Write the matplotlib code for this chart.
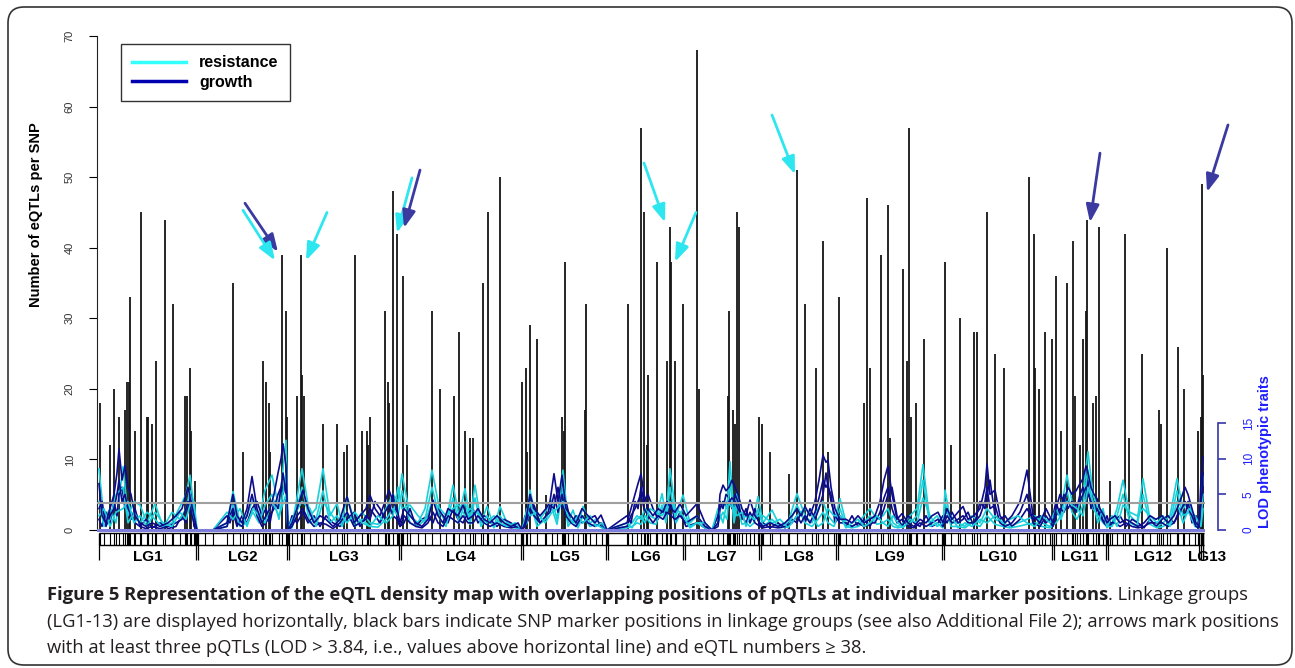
import numpy as np
import matplotlib.pyplot as plt
from matplotlib.lines import Line2D
from matplotlib.patches import FancyBboxPatch

plt.rcParams['font.family'] = ['Liberation Sans', 'DejaVu Sans']

# -----------------------------
# Linkage groups (cumulative map position)
# -----------------------------
lg_names = ["LG1", "LG2", "LG3", "LG4", "LG5", "LG6", "LG7",
            "LG8", "LG9", "LG10", "LG11", "LG12", "LG13"]
lg_start = [99, 197, 288, 400, 522, 607, 684, 760, 837, 943, 1053, 1107, 1200]
lg_end = 1205

# -----------------------------
# eQTL counts per SNP (black bars)
# -----------------------------
snp_pos = [100, 110, 114, 119, 125, 127, 129, 130, 135, 141, 147, 148, 152, 156, 165, 173, 185, 187, 190, 191, 195,
           233, 243, 263, 266, 269, 270, 282, 286, 287,
           297, 301, 302, 304, 323, 337, 344, 347, 355, 362, 367, 368, 370, 385, 388, 389, 393, 397,
           403, 407, 432, 440, 454, 459, 465, 470, 473, 483, 488, 500,
           522, 526, 527, 530, 537, 546, 562, 564, 565, 585, 586,
           628, 641, 644, 647, 648, 657, 667, 670, 671, 675, 683,
           697, 699, 728, 729, 733, 735, 737, 739,
           759, 762, 770, 789, 797, 805, 816, 823, 828, 839,
           864, 867, 870, 881, 888, 890, 903, 907, 909, 911, 916, 924,
           945, 951, 960, 974, 977, 987, 995, 1004, 1029, 1034, 1035, 1039, 1045, 1052,
           1056, 1061, 1067, 1073, 1075, 1080, 1083, 1086, 1087, 1093, 1096, 1099,
           1110, 1125, 1129, 1142, 1159, 1161, 1167, 1178, 1184, 1198,
           1201, 1202, 1203]
eqtl_count = [18, 12, 20, 16, 17, 21, 21, 33, 14, 45, 16, 16, 15, 24, 44, 32, 19, 19, 23, 14, 7,
              35, 11, 24, 21, 18, 11, 39, 31, 16,
              19, 39, 22, 19, 15, 15, 11, 12, 39, 14, 14, 12, 16, 31, 21, 18, 48, 42,
              36, 12, 31, 20, 19, 28, 14, 13, 13, 35, 45, 50,
              21, 23, 11, 29, 27, 5, 16, 14, 38, 17, 32,
              32, 57, 45, 12, 22, 38, 24, 43, 38, 24, 32,
              68, 20, 19, 31, 17, 15, 45, 43,
              16, 15, 11, 8, 51, 32, 23, 41, 11, 33,
              18, 47, 23, 39, 46, 13, 37, 24, 57, 16, 18, 27,
              38, 12, 30, 28, 28, 45, 25, 23, 50, 42, 23, 20, 28, 27,
              36, 14, 35, 41, 19, 12, 27, 31, 44, 18, 19, 43,
              7, 42, 13, 25, 17, 15, 40, 26, 20, 14,
              16, 49, 22]

# -----------------------------
# LOD profiles, resistance traits
# -----------------------------
res_x = [99, 104, 110, 116, 123, 128, 134, 140, 147, 155, 163, 172, 180, 186, 190, 194, 197,
         205,
         213, 227, 233, 240, 247, 253, 259, 265, 272, 279, 286, 288,
         292, 302, 310, 316, 323, 330, 337, 342, 347, 355, 362, 370, 378, 386, 393, 398,
         402, 410, 418, 425, 432, 440, 446, 453, 459, 465, 470, 475, 481, 487, 494, 500, 507, 515, 522,
         527, 530, 537, 545, 552, 557, 563, 568, 573, 578, 583, 590, 596, 602, 607,
         627, 632, 637, 641, 645, 650, 656, 662, 666, 670, 676, 683,
         690, 697, 705, 712, 718, 723, 727, 730, 734, 737, 742, 746, 750, 754, 758,
         763, 772, 780, 788, 797, 805, 812, 818, 823, 828, 834, 840,
         846, 852, 858, 864, 870, 877, 883, 888, 893, 898, 903, 910, 917, 923, 930, 937, 943,
         945, 951, 958, 965, 972, 980, 987, 995, 1003, 1010, 1018, 1027, 1035, 1042, 1050,
         1056, 1061, 1067, 1072, 1077, 1083, 1088, 1093, 1098, 1103, 1107,
         1112, 1117, 1123, 1130, 1137, 1143, 1150, 1157, 1163, 1170, 1177, 1183, 1189, 1195, 1199,
         1201, 1203]
res_lod1 = [8.6, 1.5, 3.0, 1.0, 8.9, 2.0, 4.0, 3.5, 1.0, 3.7, 0.5, 1.0, 3.3, 5.0, 7.7, 3.0, 0,
            0,
            0, 1.0, 5.4, 1.0, 2.0, 4.4, 1.5, 5.6, 7.7, 3.0, 12.6, 0,
            0.5, 8.6, 2.0, 3.0, 8.6, 2.0, 3.7, 1.0, 4.7, 1.0, 2.5, 1.0, 0.8, 3.0, 5.0, 4.0,
            7.9, 2.0, 1.0, 3.0, 8.4, 2.5, 1.0, 6.3, 2.0, 5.8, 1.5, 6.3, 1.0, 3.3, 0.5, 3.3, 1.0, 0.5, 0,
            2.0, 5.6, 1.0, 2.5, 4.2, 1.5, 8.4, 1.0, 2.8, 0.5, 3.3, 1.0, 1.5, 0.5, 0,
            0.5, 1.0, 2.0, 1.5, 3.0, 2.0, 1.5, 5.1, 2.0, 8.6, 2.0, 4.9,
            1.0, 2.0, 0.5, 0, 2.0, 4.0, 3.0, 9.6, 2.0, 5.1, 1.5, 2.0, 1.0, 2.0, 4.7,
            1.0, 2.8, 0.5, 1.0, 5.1, 2.0, 1.0, 3.0, 4.0, 2.0, 1.0, 4.4,
            1.0, 0.5, 1.0, 2.0, 3.0, 1.5, 2.0, 3.0, 1.0, 0.5, 1.0, 2.0, 3.0, 9.2, 1.0, 2.0, 0.5,
            5.6, 1.0, 1.0, 0.5, 2.0, 1.0, 3.0, 1.5, 1.0, 0.5, 1.0, 1.5, 2.0, 1.0, 0.5,
            2.0, 3.0, 7.7, 4.0, 2.5, 5.0, 11.0, 5.0, 3.0, 2.0, 1.0,
            1.0, 3.0, 7.0, 2.0, 1.0, 7.2, 1.5, 0.5, 1.0, 2.0, 7.2, 3.0, 4.0, 1.0, 0.5,
            3.0, 7.5]
res_lod2 = [4.0, 0.5, 1.5, 5.0, 6.0, 1.0, 2.5, 1.0, 2.5, 1.5, 0.3, 2.5, 1.5, 3.0, 5.5, 1.5, 0,
            0,
            0, 0.5, 3.5, 0.5, 1.0, 2.5, 1.0, 3.5, 5.0, 1.5, 8.0, 0,
            0.3, 6.0, 1.0, 1.5, 5.5, 1.0, 2.0, 0.5, 2.5, 0.5, 1.5, 0.5, 0.4, 1.5, 3.0, 2.0,
            5.5, 1.0, 0.5, 1.5, 6.0, 1.5, 0.5, 4.5, 1.0, 4.0, 0.8, 4.5, 0.5, 2.0, 0.3, 2.0, 0.5, 0.3, 0,
            1.0, 4.0, 0.5, 1.5, 3.0, 0.8, 6.0, 0.5, 1.5, 0.3, 2.0, 0.5, 0.8, 0.3, 0,
            0.3, 0.5, 1.0, 0.8, 2.0, 1.0, 0.8, 3.5, 1.0, 6.0, 1.0, 3.0,
            0.5, 1.0, 0.3, 0, 1.0, 2.5, 1.5, 7.0, 1.0, 3.5, 0.8, 1.0, 0.5, 1.0, 3.0,
            0.5, 1.5, 0.3, 0.5, 3.5, 1.0, 0.5, 1.5, 2.5, 1.0, 0.5, 3.0,
            0.5, 0.3, 0.5, 1.0, 2.0, 0.8, 1.0, 1.5, 0.5, 0.3, 0.5, 1.0, 2.0, 7.0, 0.5, 1.0, 0.3,
            4.0, 0.5, 0.5, 0.3, 1.0, 0.5, 2.0, 0.8, 0.5, 0.3, 0.5, 0.8, 1.0, 0.5, 0.3,
            1.0, 2.0, 5.5, 2.5, 1.5, 3.5, 8.5, 3.0, 2.0, 1.0, 0.5,
            0.5, 2.0, 5.0, 1.0, 0.5, 5.0, 0.8, 0.3, 0.5, 1.0, 5.5, 2.0, 2.5, 0.5, 0.3,
            1.5, 5.0]
res_lod3 = [2.0, 3.0, 0.5, 2.5, 3.0, 4.0, 1.0, 2.0, 0.5, 2.5, 1.0, 0.5, 2.5, 1.5, 3.5, 4.0, 0,
            0,
            0, 2.5, 1.5, 3.0, 0.5, 3.0, 2.0, 1.0, 4.0, 2.0, 5.0, 0,
            1.5, 4.0, 3.0, 0.5, 4.0, 2.5, 1.0, 2.0, 1.0, 2.5, 1.0, 0.5, 2.0, 1.0, 2.0, 6.0,
            3.0, 3.5, 2.0, 1.0, 4.0, 3.0, 2.0, 3.0, 3.5, 2.0, 3.0, 2.5, 2.0, 1.0, 2.0, 1.0, 0.5, 1.0, 0,
            3.0, 2.0, 2.5, 1.0, 2.5, 3.0, 4.0, 2.0, 1.0, 2.0, 1.0, 2.0, 0.5, 1.0, 0,
            1.0, 0.3, 1.5, 2.0, 1.0, 3.0, 2.5, 2.0, 3.0, 4.0, 3.0, 2.0,
            0.3, 1.0, 1.0, 0, 3.0, 1.0, 4.0, 3.5, 3.0, 2.0, 2.5, 0.5, 2.0, 1.5, 2.0,
            2.0, 1.0, 1.5, 0.3, 2.0, 3.0, 2.0, 0.5, 1.0, 3.0, 2.0, 2.0,
            0.3, 1.0, 1.5, 0.5, 1.0, 2.0, 1.0, 0.5, 2.0, 1.0, 0.3, 1.5, 1.0, 4.5, 2.0, 0.5, 1.0,
            2.5, 2.0, 0.3, 1.0, 0.5, 1.5, 1.0, 2.0, 1.0, 1.5, 2.0, 1.0, 0.5, 2.0, 1.0,
            3.0, 1.5, 4.0, 3.5, 3.0, 2.0, 6.0, 4.0, 1.0, 3.0, 0.3,
            2.0, 0.5, 3.5, 2.5, 2.0, 3.0, 2.0, 1.0, 2.0, 0.5, 4.0, 1.0, 3.0, 2.0, 1.0,
            0.5, 3.0]

# -----------------------------
# LOD profiles, growth traits
# -----------------------------
gro_x = [99, 102, 106, 110, 114, 117, 119, 122, 125, 128, 131, 135, 140, 146, 152, 160, 168, 176, 182, 186, 188, 191, 194, 197,
         205,
         213, 227, 230, 233, 237, 242, 247, 252, 257, 262, 266, 270, 274, 278, 281, 283, 286, 288,
         292, 297, 303, 308, 314, 320, 326, 333, 340, 347, 354, 360, 366, 370, 375, 380, 385, 389, 393, 397, 400,
         404, 410, 416, 422, 428, 433, 438, 443, 448, 453, 458, 463, 468, 473, 478, 484, 490, 497, 504, 511, 518, 522,
         525, 527, 530, 534, 540, 546, 550, 554, 558, 562, 566, 571, 576, 582, 588, 595, 601, 607,
         627, 631, 635, 638, 641, 644, 648, 653, 658, 663, 667, 671, 675, 680,
         686, 697, 705, 712, 718, 720, 723, 726, 729, 732, 735, 738, 742, 746, 750, 755, 760,
         763, 770, 778, 785, 792, 797, 801, 805, 810, 815, 819, 823, 826, 828, 831, 835, 840,
         846, 852, 858, 864, 870, 875, 880, 884, 888, 892, 897, 902, 908, 914, 920, 926, 932, 938, 943,
         947, 952, 958, 963, 968, 974, 980, 985, 987, 990, 995, 1000, 1005, 1012, 1020, 1027, 1033, 1040, 1046, 1053,
         1056, 1060, 1064, 1068, 1072, 1076, 1080, 1083, 1086, 1088, 1091, 1094, 1097, 1100, 1104, 1107,
         1110, 1115, 1120, 1126, 1132, 1138, 1144, 1150, 1156, 1162, 1168, 1174, 1180, 1185, 1188, 1192, 1196, 1199,
         1201, 1203]
gro_lod1 = [6.5, 2, 1, 3, 5, 8, 11.4, 7, 9, 6, 5, 2, 1, 0.5, 1, 0.5, 1, 2, 3, 5, 6, 4, 2, 0,
            0,
            0, 1, 3, 5, 2, 1, 3, 7.5, 3, 1, 2, 3, 5, 8, 10, 12.1, 9, 0,
            1, 3, 5.6, 3, 1, 2, 1.5, 0.5, 1.5, 4.7, 1, 2, 3, 4.9, 3, 2, 4, 5.6, 4, 3, 1,
            3, 2, 1, 0.5, 1.5, 4.2, 2, 1, 3, 2.5, 2, 3.5, 1.5, 2, 3, 1.5, 1, 2, 1, 0.5, 1, 0,
            1, 2.3, 5, 3, 2, 3, 4, 7.9, 4, 7.7, 3, 2, 1, 3, 2, 1, 2.1, 0,
            1, 3, 5, 6.5, 7.9, 5, 3, 2, 3, 2.5, 4, 3, 2.5, 3.7,
            2, 3.7, 1, 0, 1, 5, 6.3, 5.5, 6, 7, 6, 5, 3, 2, 4.2, 2, 1,
            0.5, 1, 0.5, 1, 2, 3, 2, 3.3, 2, 4, 7, 10.5, 9.5, 9.8, 6, 3, 1.5,
            1.5, 1, 2, 1, 1.5, 2, 4, 7, 9, 5, 1.5, 2.3, 1, 0.5, 1.5, 1, 2, 2.5, 1,
            3, 1.5, 2.5, 3.3, 1.5, 2, 3, 6, 9.3, 5, 5.6, 2, 1, 2, 4, 8.4, 2, 1, 3, 1,
            3, 5, 4, 6, 5, 5.5, 6.5, 7.2, 9, 8, 6, 5, 4.4, 3, 2, 1,
            1.5, 2, 1, 1.5, 1, 0.5, 1, 2, 1.5, 2, 1, 2, 4, 6, 5, 3, 1, 0.5,
            7, 10.3]
gro_lod2 = [3, 4, 0.5, 2, 3, 5, 7, 4, 5, 3, 2.5, 1, 0.5, 0.2, 0.5, 0.2, 0.5, 1, 1.5, 3, 4, 2.5, 1, 0,
            0,
            0, 0.5, 2, 3, 1, 0.5, 2, 5, 2, 0.5, 1, 2, 3, 5, 6, 8, 5, 0,
            0.5, 2, 3, 1.5, 0.5, 1, 0.8, 0.2, 1, 2.5, 0.5, 1, 1.5, 3, 2, 1, 2.5, 3.5, 2, 1.5, 0.5,
            2, 1, 0.5, 0.3, 1, 2.5, 1, 0.5, 2, 1.5, 1, 2, 1, 1, 2, 1, 0.5, 1, 0.5, 0.3, 0.5, 0,
            0.5, 1.5, 3, 2, 1, 2, 2.5, 5, 2.5, 5, 2, 1, 0.5, 2, 1, 0.5, 1, 0,
            0.5, 2, 3, 4, 5, 3, 2, 1, 2, 1.5, 2.5, 2, 1.5, 2,
            1, 2, 0.5, 0, 0.5, 3, 4, 3.5, 4, 4.5, 4, 3, 2, 1, 2.5, 1, 0.5,
            0.3, 0.5, 0.3, 0.5, 1, 2, 1, 2, 1, 2.5, 4.5, 7, 6, 6.5, 4, 2, 1,
            1, 0.5, 1, 0.5, 1, 1, 2.5, 4.5, 6, 3, 1, 1.5, 0.5, 0.3, 1, 0.5, 1, 1.5, 0.5,
            2, 1, 1.5, 2, 1, 1, 2, 4, 6, 3, 3.5, 1, 0.5, 1, 2.5, 5, 1, 0.5, 2, 0.5,
            2, 3, 2.5, 4, 3, 3.5, 4, 5, 6, 5, 4, 3, 3, 2, 1, 0.5,
            1, 1, 0.5, 1, 0.5, 0.3, 0.5, 1, 1, 1, 0.5, 1, 2.5, 4, 3, 2, 0.5, 0.3,
            4, 6]
gro_lod3 = [1.5, 0.5, 2.5, 1, 4, 2, 5, 6, 3, 4, 1.5, 3, 0.5, 1.5, 0.3, 1, 0.2, 0.5, 2, 1, 3, 5, 0.5, 0,
            0,
            0, 2, 1, 2.5, 0.5, 2, 1, 3, 4, 2, 3, 1, 4, 3, 6, 5, 7, 0,
            2, 1, 2.5, 1, 2, 0.5, 2, 1, 0.5, 1.5, 2.5, 0.5, 2, 1.5, 4, 3, 1.5, 2, 5, 2, 0.5,
            1, 3, 0.5, 1.5, 2, 1, 3, 2, 1, 3, 1.5, 1, 2.5, 3, 1, 2, 1.5, 0.5, 1.5, 1, 0.3, 0,
            2, 1, 2, 3.5, 1, 1.5, 3.5, 3, 6, 3, 4, 1, 2, 1, 1.5, 2, 0.5, 0,
            2, 1, 4, 3, 6, 4, 5, 3, 1.5, 3, 2, 4, 1, 2.5,
            0.5, 1, 0.3, 0, 2, 4, 3, 5, 4.5, 3, 5, 4, 1.5, 3, 1, 3, 0.5,
            1, 0.3, 1, 0.3, 1.5, 1, 2.5, 1, 3, 1.5, 3, 5, 8, 6, 5, 1, 2,
            0.5, 2, 0.5, 1.5, 0.5, 2, 1.5, 3, 5, 6, 2, 0.5, 2, 1, 0.5, 2, 0.5, 1, 2,
            1, 2.5, 1, 1.5, 2.5, 0.5, 4, 3, 5, 7, 2, 1.5, 2, 0.5, 1.5, 3, 1.5, 2, 1, 2,
            4, 2, 5, 3, 4, 2.5, 5, 6, 4, 7, 3, 4, 2, 2.5, 1, 2,
            0.5, 1.5, 2, 0.5, 1.5, 1, 0.3, 1.5, 0.5, 1.5, 2, 1, 3, 2, 4, 1, 2, 1,
            2, 8]

lod_threshold = 3.84

# arrows: (tail x, tail y) -> (head x, head y) in eQTL count units, trait group
arrow_tail_x = [245, 243, 327, 412, 420, 644, 696, 772, 1100, 1228]
arrow_tail_y = [46.3, 45.3, 45.0, 49.9, 51.0, 52.0, 45.0, 58.8, 53.4, 57.4]
arrow_head_x = [278, 275, 306, 397, 404, 665, 675, 795, 1090, 1207]
arrow_head_y = [39.4, 38.2, 38.2, 42.1, 42.8, 43.6, 38.0, 50.4, 43.6, 47.9]
arrow_group = ["growth", "resistance", "resistance", "resistance", "growth",
               "resistance", "resistance", "resistance", "growth", "growth"]

cyan = "#1cd0da"
navy = "#0c0c8a"
arrow_colors = {"resistance": "#2ee6f0", "growth": "#3a3aa0"}
lod_axis_col = "#3636a8"
lod_text_col = "#1f1fff"

# -----------------------------
# Figure
# -----------------------------
W, H = 1295, 668
fig = plt.figure(figsize=(W / 100, H / 100), dpi=100)


def fx(px):
    return px / W


def fy(py):
    return 1 - py / H


ax = fig.add_axes([fx(97), fy(561.8), fx(1205) - fx(97), fy(36) - fy(561.8)])
ax.set_xlim(97, 1205)
ax.set_ylim(-4.5, 70)

# black bars
ax.vlines(snp_pos, 0, eqtl_count, color="#151515", lw=1.3, zorder=2)

# marker rug under the axis
markers = sorted(set(snp_pos) | set(res_x))
rug_top, rug_bot, rug_long = -0.45, -2.1, -4.2
ax.vlines(markers, rug_bot, rug_top, color="black", lw=0.8)
ax.hlines([rug_top, rug_bot], lg_start[0], lg_end - 1, color="black", lw=1.0)
ax.vlines([lg_start[0]], rug_long, rug_top, color="black", lw=0.9)
for b in lg_start[1:] + [lg_end - 1]:
    ax.vlines([b - 1.2, b + 1.2], rug_long, rug_top, color="black", lw=0.9)

bounds = lg_start + [lg_end]
for i, name in enumerate(lg_names):
    mid = (bounds[i] + bounds[i + 1]) / 2
    if name == "LG13":
        # last group is very short, its label sits just past the axis end
        ax.text(bounds[i] - 12, -3.85, name, ha="left", va="center", fontsize=11, weight="bold")
    else:
        ax.text(mid, -3.85, name, ha="center", va="center", fontsize=11, weight="bold")

ax.set_yticks(range(0, 71, 10))
ax.spines["left"].set_bounds(0, 70)
ax.spines["left"].set_color("#222")
for s in ["top", "right", "bottom"]:
    ax.spines[s].set_visible(False)
ax.tick_params(axis="x", bottom=False, labelbottom=False)
ax.tick_params(axis="y", length=6, labelsize=8, labelcolor="#333", pad=10)
for lbl in ax.get_yticklabels():
    lbl.set_rotation(90)
    lbl.set_va("center")

# LOD axis
ax2 = ax.twinx()
ax2.set_ylim(-4.46, 69.3)
ax2.set_xlim(97, 1205)
for i in range(3):
    ax2.plot(res_x, [res_lod1, res_lod2, res_lod3][i], color=cyan, lw=1.2)
    ax2.plot(gro_x, [gro_lod3, gro_lod2, gro_lod1][i], color=navy, lw=1.2)
ax2.axhline(0, color="#7d7ddc", lw=2.2, zorder=3)
ax2.axhline(lod_threshold, color="#a0a0a0", lw=1.5, zorder=4)

for s in ["top", "left", "bottom"]:
    ax2.spines[s].set_visible(False)
ax2.spines["right"].set_position(("axes", 1.0117))
ax2.spines["right"].set_bounds(0, 15)
ax2.spines["right"].set_color(lod_axis_col)
ax2.spines["right"].set_linewidth(1.2)
ax2.set_yticks([0, 5, 10, 15])
ax2.tick_params(axis="y", length=6, width=1.2, color=lod_axis_col,
                labelcolor=lod_text_col, labelsize=8.5, pad=12)
for lbl in ax2.get_yticklabels():
    lbl.set_rotation(90)
    lbl.set_va("center")

# arrows
for tx, ty, hx, hy, g in zip(arrow_tail_x, arrow_tail_y, arrow_head_x, arrow_head_y, arrow_group):
    ax.annotate("", xy=(hx, hy), xytext=(tx, ty), annotation_clip=False,
                arrowprops=dict(arrowstyle="-|>,head_length=0.75,head_width=0.28",
                                color=arrow_colors[g], lw=2, shrinkA=0, shrinkB=0,
                                mutation_scale=14))

# legend
handles = [Line2D([0], [0], color="#33ffff", lw=2.5),
           Line2D([0], [0], color="#0000b0", lw=2.5)]
leg = ax2.legend(handles, ["resistance", "growth"], loc="upper left",
                 bbox_to_anchor=((121 - 97) / 1108, (561.8 - 44) / 525.8),
                 borderaxespad=0, frameon=True, fancybox=False, edgecolor="black",
                 prop={"weight": "bold", "size": 11.5}, handlelength=3.4,
                 handletextpad=0.8, labelspacing=0.3, borderpad=0.7)
leg.get_frame().set_linewidth(1.0)

# axis titles
fig.text(fx(36), fy(215), "Number of eQTLs per SNP", rotation=90, ha="center", va="center",
         fontsize=10.5, weight="bold")
fig.text(fx(1265), fy(452), "LOD phenotypic traits", rotation=90, ha="center", va="center",
         fontsize=10.5, weight="bold", color=lod_text_col)

# frame
fig.patches.append(FancyBboxPatch((0.08, 0.03), 12.84, 6.58,
                                  boxstyle="round,pad=0,rounding_size=0.16",
                                  transform=fig.dpi_scale_trans, fill=False,
                                  ec="#333333", lw=1.2))

# caption
cap_font = ["Open Sans", "DejaVu Sans"]
cap_col = "#231f20"
bold_part = ("Figure 5 Representation of the eQTL density map with overlapping positions "
             "of pQTLs at individual marker positions")
line2 = ("(LG1-13) are displayed horizontally, black bars indicate SNP marker positions in "
         "linkage groups (see also Additional File 2); arrows mark positions")
line3 = ("with at least three pQTLs (LOD > 3.84, i.e., values above horizontal line) "
         "and eQTL numbers \u2265 38.")

t2 = fig.text(fx(47), fy(622), line2, family=cap_font, fontsize=12, va="center", color=cap_col)
fig.canvas.draw()
w2 = t2.get_window_extent(fig.canvas.get_renderer()).width
cap_size = 12 * 1222 / w2
t2.set_fontsize(cap_size)

t1 = fig.text(fx(47), fy(595), bold_part, family=cap_font, fontsize=cap_size,
              weight="bold", va="center", color=cap_col)
ax.annotate(". Linkage groups", xy=(1, 0), xycoords=t1, ha="left", va="bottom",
            family=cap_font, fontsize=cap_size, color=cap_col, annotation_clip=False)
fig.text(fx(47), fy(648), line3, family=cap_font, fontsize=cap_size, va="center", color=cap_col)

fig.savefig("out.png", dpi=100)
